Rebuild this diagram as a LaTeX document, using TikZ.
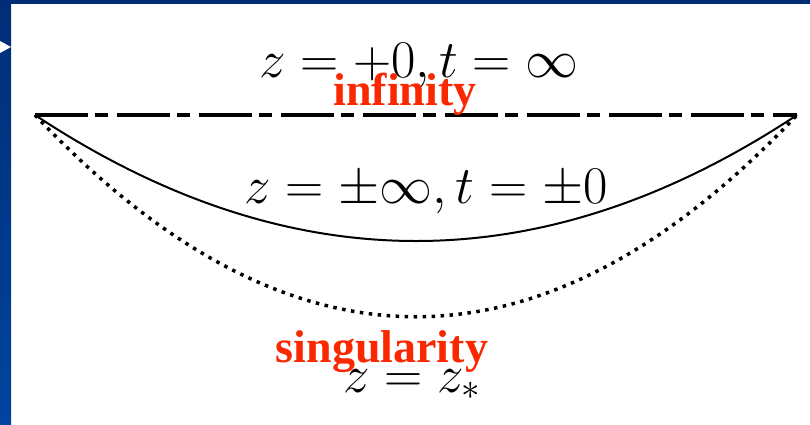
\RequirePackage{fix-cm}
\documentclass[tikz,border=0pt]{standalone}
\usepackage{amsmath, amssymb}
\usepackage{fontspec}
\usepackage{tikz}
\usetikzlibrary{positioning, calc}
\newfontfamily\labelfont{Liberation Serif}
\definecolor{SlideBlueTop}{RGB}{0, 46, 118}
\definecolor{SlideBlueBottom}{RGB}{0, 68, 158}
\definecolor{LabelRed}{RGB}{250, 40, 0}

\begin{document}
\begin{tikzpicture}[x=1pt, y=-1pt,
    mathlabel/.style={anchor=base, inner sep=0pt, text=black, font=\fontsize{53}{64}\selectfont},
    redlabel/.style={anchor=base, inner sep=0pt, text=LabelRed, font=\labelfont\bfseries\fontsize{46}{55}\selectfont}]
    \useasboundingbox (0,0) rectangle (810,424);

    % Slide frame
    \fill[white] (0,0) rectangle (810,424);
    \shade[top color=SlideBlueTop, bottom color=SlideBlueBottom] (0,0) rectangle (11,424);
    \fill[SlideBlueTop] (0,0) rectangle (810,4);
    \fill[white] (0,41) -- (11,47) -- (0,53) -- cycle;

    % End points
    \coordinate (left) at (35,115);
    \coordinate (right) at (797,115);

    % Boundary at infinity
    \draw[line width=4.5pt, dash pattern=on 53pt off 7pt on 13pt off 9pt] (left) -- (right);

    % Curves
    \draw[line width=2pt] (left) .. controls (289,283) and (543,283) .. (right);
    \draw[line width=3.5pt, dash pattern=on 3.5pt off 5.5pt] (left) .. controls (289,384) and (543,384) .. (right);

    % Labels
    \node[mathlabel] (top) at (419,77) {$z=+0,t=\infty$};
    \node[redlabel] (inf) at (405,105) {infinity};
    \node[mathlabel] (mid) at (426,203) {$z=\pm\infty,t=\pm0$};
    \node[redlabel] (sing) at (382,362) {singularity};
    \node[mathlabel] (bot) at (412,392) {$z=z_*$};
\end{tikzpicture}
\end{document}
